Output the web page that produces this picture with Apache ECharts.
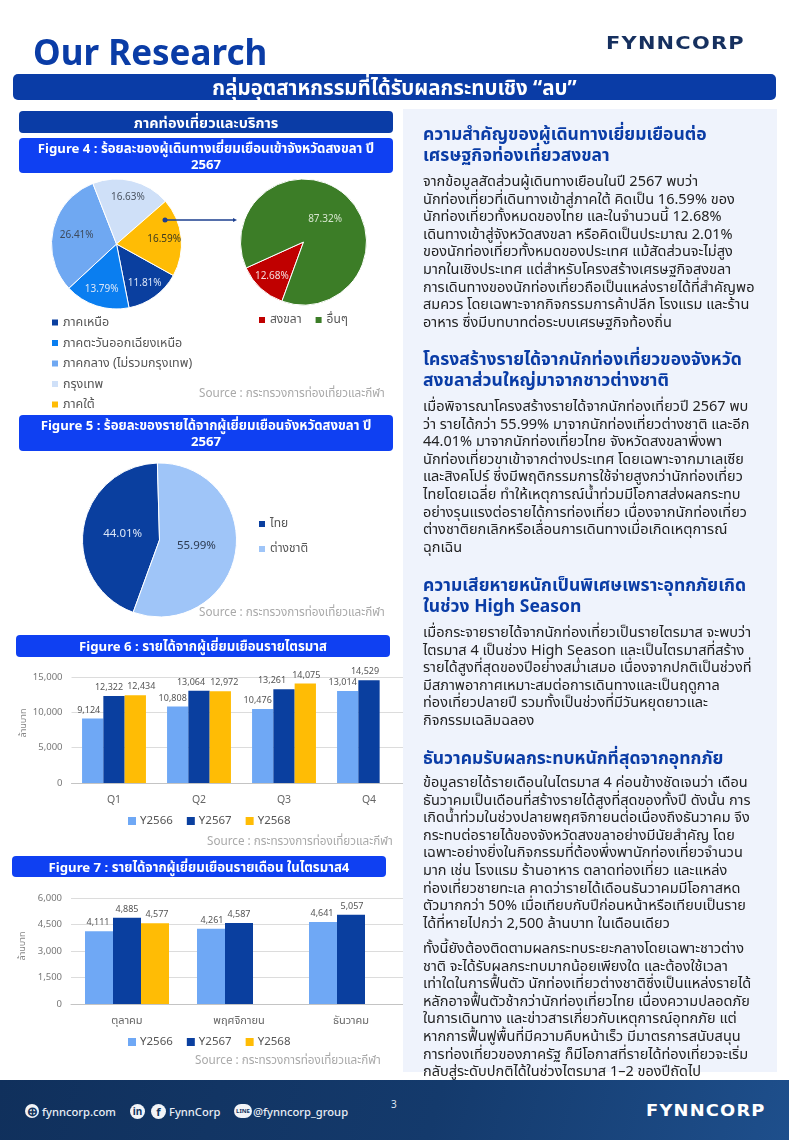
<!DOCTYPE html>
<html><head><meta charset="utf-8">
<script src="https://cdn.jsdelivr.net/npm/echarts@6/dist/echarts.min.js"></script>
<style>
html,body{margin:0;padding:0;background:#fff}
#page{position:relative;width:789px;height:1140px;overflow:hidden;font-family:"Noto Sans","Noto Sans Thai",sans-serif;background:#fff}
#chart{position:absolute;left:0;top:0;width:789px;height:1140px}
.a{position:absolute}
.bar{position:absolute;color:#fff;font-weight:700;text-align:center;border-radius:4px;display:flex;align-items:center;justify-content:center;line-height:16px}
.dark{background:#0a3ca6}.bright{background:#0f40f2}
.src{position:absolute;color:#a9a9a9;font-size:11.7px;white-space:nowrap;line-height:14px}
#panel{position:absolute;left:403px;top:109px;width:374px;height:963px;background:#eff3fc}
.h{position:absolute;left:423px;color:#0a3ca6;font-weight:700;font-size:17.5px;line-height:21px;white-space:nowrap}
.p{position:absolute;left:423px;color:#222;font-size:14.5px;line-height:17.6px;white-space:nowrap}
#foot{position:absolute;left:0;top:1080px;width:789px;height:60px;background:linear-gradient(105deg,#10305c 0%,#143a6c 55%,#1e4f8c 100%);color:#e8edf5}
.ft{position:absolute;top:24px;font-size:11.2px;font-weight:500;line-height:16px;white-space:nowrap}
.ic{position:absolute;top:24px;width:15px;height:15px;border-radius:50%;background:#f2f4f8;color:#12345f;font-size:10px;font-weight:700;line-height:15px;text-align:center}
.logo{position:absolute;font-family:"DejaVu Sans";font-weight:700;white-space:nowrap;transform-origin:0 50%}
</style></head>
<body><div id="page">
<div id="chart"></div>
<div class="a" style="left:33px;top:30px;font-size:35px;font-weight:700;color:#0a3ca6;line-height:44px">Our Research</div>
<div class="logo" style="left:606px;top:33px;font-size:17px;letter-spacing:1px;color:#16305f;line-height:21px;transform:scaleX(1.23)">FYNNCORP</div>
<div class="bar dark" style="left:13px;top:74px;width:763px;height:26px;font-size:20.5px;border-radius:5px">กลุ่มอุตสาหกรรมที่ได้รับผลกระทบเชิง “ลบ”</div>
<div class="bar dark" style="left:19px;top:111px;width:374px;height:22px;font-size:14.5px">ภาคท่องเที่ยวและบริการ</div>
<div class="bar bright" style="left:19px;top:138px;width:374px;height:35px;font-size:13.2px;padding:0 14px;box-sizing:border-box">Figure 4 : ร้อยละของผู้เดินทางเยี่ยมเยือนเข้าจังหวัดสงขลา ปี 2567</div>
<div class="bar bright" style="left:19px;top:415px;width:374px;height:36px;font-size:13.2px;padding:0 14px;box-sizing:border-box">Figure 5 : ร้อยละของรายได้จากผู้เยี่ยมเยือนจังหวัดสงขลา ปี 2567</div>
<div class="bar bright" style="left:16px;top:635px;width:374px;height:22px;font-size:13.2px">Figure 6 : รายได้จากผู้เยี่ยมเยือนรายไตรมาส</div>
<div class="bar bright" style="left:12px;top:856px;width:374px;height:21px;font-size:13.2px">Figure 7 : รายได้จากผู้เยี่ยมเยือนรายเดือน ในไตรมาส4</div>
<div class="src" style="left:199px;top:385px">Source : กระทรวงการท่องเที่ยวและกีฬา</div>
<div class="src" style="left:199px;top:604px">Source : กระทรวงการท่องเที่ยวและกีฬา</div>
<div class="src" style="left:207px;top:833px">Source : กระทรวงการท่องเที่ยวและกีฬา</div>
<div class="src" style="left:195px;top:1052px">Source : กระทรวงการท่องเที่ยวและกีฬา</div>
<div id="panel"></div>
<div class="h" style="top:123px">ความสำคัญของผู้เดินทางเยี่ยมเยือนต่อ<br>เศรษฐกิจท่องเที่ยวสงขลา</div>
<div class="p" style="top:172px">จากข้อมูลสัดส่วนผู้เดินทางเยือนในปี 2567 พบว่า<br>นักท่องเที่ยวที่เดินทางเข้าสู่ภาคใต้ คิดเป็น 16.59% ของ<br>นักท่องเที่ยวทั้งหมดของไทย และในจำนวนนี้ 12.68%<br>เดินทางเข้าสู่จังหวัดสงขลา หรือคิดเป็นประมาณ 2.01%<br>ของนักท่องเที่ยวทั้งหมดของประเทศ แม้สัดส่วนจะไม่สูง<br>มากในเชิงประเทศ แต่สำหรับโครงสร้างเศรษฐกิจสงขลา<br>การเดินทางของนักท่องเที่ยวถือเป็นแหล่งรายได้ที่สำคัญพอ<br>สมควร โดยเฉพาะจากกิจกรรมการค้าปลีก โรงแรม และร้าน<br>อาหาร ซึ่งมีบทบาทต่อระบบเศรษฐกิจท้องถิ่น</div>
<div class="h" style="top:348px">โครงสร้างรายได้จากนักท่องเที่ยวของจังหวัด<br>สงขลาส่วนใหญ่มาจากชาวต่างชาติ</div>
<div class="p" style="top:397px">เมื่อพิจารณาโครงสร้างรายได้จากนักท่องเที่ยวปี 2567 พบ<br>ว่า รายได้กว่า 55.99% มาจากนักท่องเที่ยวต่างชาติ และอีก<br>44.01% มาจากนักท่องเที่ยวไทย จังหวัดสงขลาพึ่งพา<br>นักท่องเที่ยวขาเข้าจากต่างประเทศ โดยเฉพาะจากมาเลเซีย<br>และสิงคโปร์ ซึ่งมีพฤติกรรมการใช้จ่ายสูงกว่านักท่องเที่ยว<br>ไทยโดยเฉลี่ย ทำให้เหตุการณ์น้ำท่วมมีโอกาสส่งผลกระทบ<br>อย่างรุนแรงต่อรายได้การท่องเที่ยว เนื่องจากนักท่องเที่ยว<br>ต่างชาติยกเลิกหรือเลื่อนการเดินทางเมื่อเกิดเหตุการณ์<br>ฉุกเฉิน</div>
<div class="h" style="top:574px">ความเสียหายหนักเป็นพิเศษเพราะอุทกภัยเกิด<br>ในช่วง High Season</div>
<div class="p" style="top:623px">เมื่อกระจายรายได้จากนักท่องเที่ยวเป็นรายไตรมาส จะพบว่า<br>ไตรมาส 4 เป็นช่วง High Season และเป็นไตรมาสที่สร้าง<br>รายได้สูงที่สุดของปีอย่างสม่ำเสมอ เนื่องจากปกติเป็นช่วงที่<br>มีสภาพอากาศเหมาะสมต่อการเดินทางและเป็นฤดูกาล<br>ท่องเที่ยวปลายปี รวมทั้งเป็นช่วงที่มีวันหยุดยาวและ<br>กิจกรรมเฉลิมฉลอง</div>
<div class="h" style="top:747px">ธันวาคมรับผลกระทบหนักที่สุดจากอุทกภัย</div>
<div class="p" style="top:773px">ข้อมูลรายได้รายเดือนในไตรมาส 4 ค่อนข้างชัดเจนว่า เดือน<br>ธันวาคมเป็นเดือนที่สร้างรายได้สูงที่สุดของทั้งปี ดังนั้น การ<br>เกิดน้ำท่วมในช่วงปลายพฤศจิกายนต่อเนื่องถึงธันวาคม จึง<br>กระทบต่อรายได้ของจังหวัดสงขลาอย่างมีนัยสำคัญ โดย<br>เฉพาะอย่างยิ่งในกิจกรรมที่ต้องพึ่งพานักท่องเที่ยวจำนวน<br>มาก เช่น โรงแรม ร้านอาหาร ตลาดท่องเที่ยว และแหล่ง<br>ท่องเที่ยวชายทะเล คาดว่ารายได้เดือนธันวาคมมีโอกาสหด<br>ตัวมากกว่า 50% เมื่อเทียบกับปีก่อนหน้าหรือเทียบเป็นราย<br>ได้ที่หายไปกว่า 2,500 ล้านบาท ในเดือนเดียว</div>
<div class="p" style="top:939px">ทั้งนี้ยังต้องติดตามผลกระทบระยะกลางโดยเฉพาะชาวต่าง<br>ชาติ จะได้รับผลกระทบมากน้อยเพียงใด และต้องใช้เวลา<br>เท่าใดในการฟื้นตัว นักท่องเที่ยวต่างชาติซึ่งเป็นแหล่งรายได้<br>หลักอาจฟื้นตัวช้ากว่านักท่องเที่ยวไทย เนื่องความปลอดภัย<br>ในการเดินทาง และข่าวสารเกี่ยวกับเหตุการณ์อุทกภัย แต่<br>หากการฟื้นฟูพื้นที่มีความคืบหน้าเร็ว มีมาตรการสนับสนุน<br>การท่องเที่ยวของภาครัฐ ก็มีโอกาสที่รายได้ท่องเที่ยวจะเริ่ม<br>กลับสู่ระดับปกติได้ในช่วงไตรมาส 1–2 ของปีถัดไป</div>
<div id="foot">
 <div class="ic" style="left:25px;width:14px;height:14px;line-height:14px;font-size:13px">⊕</div><div class="ft" style="left:42px">fynncorp.com</div>
 <div class="ic" style="left:130px">in</div><div class="ic" style="left:151px;font-size:11px">f</div><div class="ft" style="left:169px">FynnCorp</div>
 <div class="ic" style="left:234px;width:18px;height:14px;border-radius:7px;font-size:6px;line-height:14px">LINE</div><div class="ft" style="left:253px">@fynncorp_group</div>
 <div class="a" style="left:391px;top:17px;font-size:10px;color:#dfe6f2">3</div>
 <div class="logo" style="left:646px;top:22px;font-size:15px;letter-spacing:1px;color:#fff;line-height:19px;transform:scaleX(1.19)">FYNNCORP</div>
</div>
</div>
<script>
const regions = ['ภาคเหนือ','ภาคตะวันออกเฉียงเหนือ','ภาคกลาง (ไม่รวมกรุงเทพ)','กรุงเทพ','ภาคใต้'];
const regionShare = [11.81,13.79,26.41,16.63,16.59];
const regionColors = ['#0a3f9f','#0a7ef0','#6fa8f2','#cfe0f8','#ffbc05'];
const regionLabelColors = ['#dbe6f7','#dbe6f7','#3d4a5c','#4a5360','#3d3a20'];
const south = ['สงขลา','อื่นๆ'];
const southShare = [12.68,87.32];
const southColors = ['#c00000','#3c7d27'];
const visitor = ['ไทย','ต่างชาติ'];
const visitorShare = [44.01,55.99];
const visitorColors = ['#0a3f9f','#9fc5f8'];
const visitorLabelColors = ['#dbe6f7','#2c3a50'];
const quarters = ['Q1','Q2','Q3','Q4'];
const years = ['Y2566','Y2567','Y2568'];
const q2566 = [9124,10808,10476,13014];
const q2567 = [12322,13064,13261,14529];
const q2568 = [12434,12972,14075,null];
const months = ['ตุลาคม','พฤศจิกายน','ธันวาคม'];
const m2566 = [4111,4261,4641];
const m2567 = [4885,4587,5057];
const m2568 = [4577,null,null];
const barColors = ['#6fa8f5','#0a3f9f','#ffbc05'];
const qNudge = [[-4,-5,-5,-5],[-5,-8,-12,-4],[6,4,1,0]];
const mNudge = [[-1,1,-1],[0,0,1],[2,0,0]];

const font = '"Noto Sans","Noto Sans Thai",sans-serif';
function radial(cx,cy,ks){return p=>{const k=ks[p.dataIndex];const x=p.labelRect.x+p.labelRect.width/2,y=p.labelRect.y+p.labelRect.height/2;return {dx:(x-cx)*(k-1),dy:(y-cy)*(k-1)};};}
function pie(names,vals,cols,lab,cx,cy,r,start,ks,fs){
  return {type:'pie',center:[cx,cy],radius:r,startAngle:start,clockwise:true,silent:true,
    data:names.map((n,i)=>({name:n,value:vals[i],itemStyle:{color:cols[i],borderColor:'#fff',borderWidth:1},label:{color:lab[i]}})),
    label:{position:'inside',formatter:p=>p.value.toFixed(2)+'%',fontSize:fs,fontFamily:font},
    labelLine:{show:false},labelLayout:radial(cx,cy,ks)};
}
function bars(yi,grid,vals,nudge,w){
  return {type:'bar',name:years[yi],xAxisIndex:grid,yAxisIndex:grid,barWidth:w,barGap:0,silent:true,
    itemStyle:{color:barColors[yi]},
    data:vals.map((v,i)=>({value:v,label:{offset:[nudge[yi][i],0]}})),
    label:{show:true,position:'top',distance:4,fontSize:9,color:'#555',fontFamily:font,formatter:p=>p.value==null?'':p.value.toLocaleString('en-US')}};
}
function xAx(g,data,fs,mg){return {type:'category',gridIndex:g,data,axisTick:{show:false},axisLine:{lineStyle:{color:'#c4c4c4'}},axisLabel:{color:'#666',fontSize:fs,margin:mg,fontFamily:font}};}
function yAx(g,max,step,gap,lift){return {type:'value',gridIndex:g,min:0,max,interval:step,name:'ล้านบาท',nameLocation:'middle',nameGap:gap,nameTextStyle:{color:'#888',fontSize:9,fontFamily:font,padding:[0,0,0,lift]},axisLine:{show:false},axisTick:{show:false},splitLine:{lineStyle:{color:'#dcdcdc'}},axisLabel:{color:'#777',fontSize:9.5,margin:9,fontFamily:font,formatter:v=>v.toLocaleString('en-US')}};}
function lg(names,left,top,orient,gap,fs){return {data:names,left,top,orient,itemGap:gap,itemWidth:8,itemHeight:8,icon:'rect',selectedMode:false,padding:0,textStyle:{fontSize:fs,color:'#555',fontFamily:font,padding:[0,0,0,-1]}};}

const chart = echarts.init(document.getElementById('chart'),null,{renderer:'canvas',width:789,height:1140});
chart.setOption({
  animation:false,
  grid:[{left:71.5,top:677,width:340,height:106},{left:71,top:898,width:336,height:106}],
  xAxis:[xAx(0,quarters,10.5,12),xAx(1,months,11,11)],
  yAxis:[yAx(0,15000,5000,44,14),yAx(1,6000,1500,44,10)],
  legend:[
    lg(regions,50,316,'vertical',7.5,12.5),
    lg(south,257,314,'horizontal',12,12),
    lg(visitor,257,518,'vertical',13,12),
    lg(years,128,815,'horizontal',14,11.5),
    lg(years,128,1036,'horizontal',14,11.5)
  ],
  series:[
    pie(regions,regionShare,regionColors,regionLabelColors,116.5,244,65,-29,[1.35,1.35,1.15,1.35,1.35],10),
    pie(south,southShare,southColors,['#f3dcdc','#d7e6cf'],303.5,242,63,-110,[1.35,0.92],10),
    pie(visitor,visitorShare,visitorColors,visitorLabelColors,159.5,540,77,-110,[0.9,0.9],11.5),
    bars(0,0,q2566,qNudge,21.3),bars(1,0,q2567,qNudge,21.3),bars(2,0,q2568,qNudge,21.3),
    bars(0,1,m2566,mNudge,28),bars(1,1,m2567,mNudge,28),bars(2,1,m2568,mNudge,28)
  ],
  graphic:[
    {type:'line',z:50,shape:{x1:164,y1:220,x2:233,y2:220},style:{stroke:'#1c3f8f',lineWidth:1.5}},
    {type:'circle',z:50,shape:{cx:165,cy:220,r:2.5},style:{fill:'#1c3f8f'}},
    {type:'polygon',z:50,shape:{points:[[233,218],[237,220],[233,222]]},style:{fill:'#1c3f8f'}}
  ]
});
</script>
</body></html>
